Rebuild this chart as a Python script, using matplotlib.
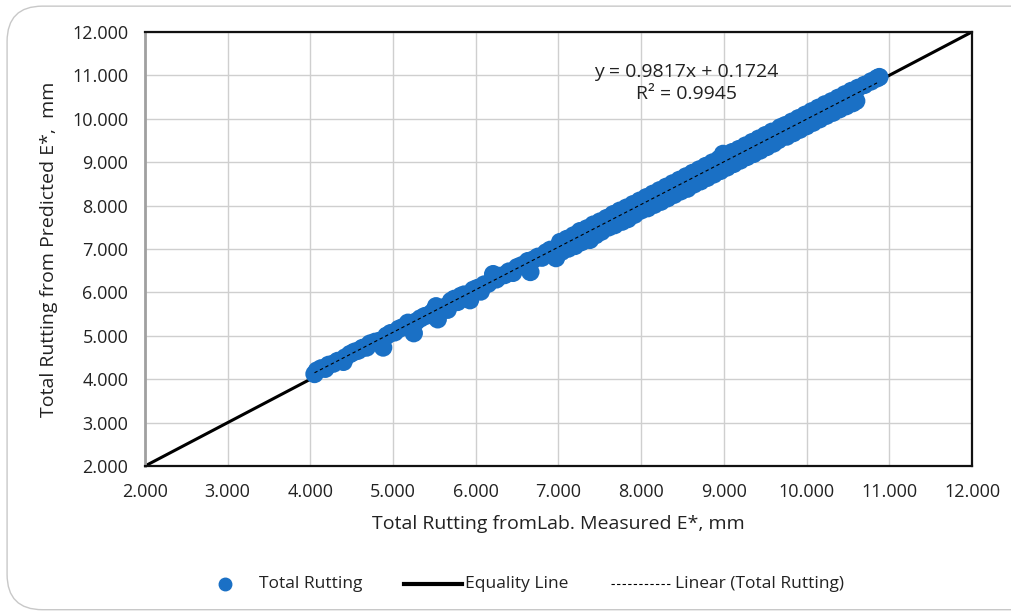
import numpy as np
import matplotlib.pyplot as plt
from matplotlib.patches import FancyBboxPatch
from matplotlib.lines import Line2D

plt.rcParams['font.family'] = ['Open Sans', 'DejaVu Sans']

# Rutting from lab-measured E* vs rutting from predicted E* (mm)
measured = [
    4.05, 4.08, 4.13, 4.18, 4.22, 4.28, 4.33, 4.40, 4.42, 4.48, 4.53, 4.58,
    4.63, 4.68, 4.72, 4.78, 4.83, 4.88, 4.92, 4.97, 5.02, 5.07, 5.12, 5.18,
    5.22, 5.25, 5.28, 5.33, 5.38, 5.43, 5.48, 5.52, 5.54, 5.58, 5.62, 5.66,
    5.70, 5.74, 5.78, 5.82, 5.86, 5.90, 5.93, 5.97, 6.02, 6.06, 6.10, 6.15,
    6.21, 6.25, 6.30, 6.35, 6.40, 6.45, 6.50, 6.55, 6.60, 6.63, 6.66, 6.70,
    6.75, 6.80, 6.85, 6.90, 6.94, 6.97,
    7.02, 7.04, 7.10, 7.12, 7.18, 7.20, 7.26, 7.28, 7.34, 7.38, 7.42, 7.45,
    7.50, 7.52, 7.58, 7.61, 7.66, 7.68, 7.74, 7.77, 7.82, 7.84, 7.90, 7.92,
    7.98, 8.00, 8.06, 8.08, 8.14, 8.16, 8.22, 8.24, 8.30, 8.32, 8.38, 8.40,
    8.46, 8.48, 8.54, 8.56, 8.62, 8.64, 8.70, 8.72, 8.78, 8.80, 8.86, 8.88,
    8.94, 8.96, 8.99, 9.02, 9.04, 9.10, 9.12, 9.18, 9.20, 9.26, 9.28, 9.34,
    9.36, 9.42, 9.44, 9.50, 9.52, 9.58, 9.60, 9.68, 9.66, 9.74, 9.76, 9.82,
    9.84, 9.90, 9.92, 9.98, 10.00, 10.06, 10.08, 10.14, 10.16, 10.22, 10.24,
    10.30, 10.32, 10.38, 10.40, 10.46, 10.48, 10.54, 10.56, 10.62, 10.60,
    10.70, 10.78, 10.85, 10.88,
]
predicted = [
    4.12, 4.20, 4.25, 4.24, 4.33, 4.36, 4.42, 4.40, 4.50, 4.58, 4.63, 4.66,
    4.72, 4.73, 4.82, 4.86, 4.88, 4.73, 5.00, 5.06, 5.08, 5.16, 5.20, 5.30,
    5.25, 5.06, 5.33, 5.40, 5.45, 5.48, 5.55, 5.68, 5.38, 5.60, 5.66, 5.60,
    5.80, 5.85, 5.78, 5.92, 5.95, 5.93, 5.82, 6.06, 6.10, 6.02, 6.18, 6.20,
    6.42, 6.30, 6.38, 6.40, 6.48, 6.45, 6.58, 6.62, 6.60, 6.72, 6.47, 6.76,
    6.82, 6.80, 6.92, 6.98, 6.90, 6.79,
    7.16, 6.94, 7.23, 7.01, 7.31, 7.07, 7.41, 7.16, 7.47, 7.21, 7.56, 7.32,
    7.63, 7.40, 7.71, 7.50, 7.80, 7.55, 7.88, 7.63, 7.95, 7.69, 8.03, 7.79,
    8.11, 7.89, 8.19, 7.94, 8.27, 8.02, 8.35, 8.09, 8.43, 8.17, 8.51, 8.25,
    8.59, 8.33, 8.67, 8.39, 8.75, 8.49, 8.83, 8.56, 8.91, 8.64, 8.99, 8.72,
    9.07, 8.80, 9.19, 9.15, 8.88, 9.23, 8.96, 9.30, 9.04, 9.38, 9.12, 9.46,
    9.19, 9.54, 9.27, 9.62, 9.35, 9.70, 9.43, 9.80, 9.51, 9.85, 9.59, 9.93,
    9.67, 10.01, 9.75, 10.09, 9.83, 10.17, 9.91, 10.25, 9.99, 10.33, 10.07,
    10.40, 10.14, 10.48, 10.22, 10.56, 10.29, 10.64, 10.36, 10.71, 10.41,
    10.78, 10.86, 10.93, 10.96,
]

# Linear trendline coefficients
slope = 0.9817
intercept = 0.1724
r2 = 0.9945

ticks = [2, 3, 4, 5, 6, 7, 8, 9, 10, 11, 12]
tick_labels = [f'{t:.3f}' for t in ticks]

blue = '#1a70c5'
txt = '#222222'

fig = plt.figure(figsize=(10.11, 6.14), dpi=100)

# Chart area border with rounded corners
frame = FancyBboxPatch((0.007, 0.007), 1.05, 0.983, boxstyle='round,pad=0,rounding_size=0.035',
                       transform=fig.transFigure, facecolor='none', edgecolor='#c8c8c8',
                       linewidth=1.0, mutation_aspect=1011 / 614, zorder=-1)
fig.patches.append(frame)

ax = fig.add_axes([0.1434, 0.241, 0.818, 0.707])
ax.set_facecolor('none')

ax.plot([2, 12], [2, 12], color='black', linewidth=2.2, zorder=2)
ax.scatter(measured, predicted, s=175, color=blue, edgecolors='none', zorder=3)

xfit = np.array([min(measured), max(measured)])
ax.plot(xfit, slope * xfit + intercept, color='black', linestyle=(0, (3, 2.5)),
        linewidth=0.8, zorder=4)

ax.set_xlim(2, 12)
ax.set_ylim(2, 12)
ax.set_xticks(ticks)
ax.set_xticklabels(tick_labels)
ax.set_yticks(ticks)
ax.set_yticklabels(tick_labels)
ax.tick_params(length=0, labelsize=13, colors=txt)
ax.tick_params(axis='x', pad=12)
ax.tick_params(axis='y', pad=12)
ax.grid(True, color='#cfcfcf', linewidth=1.0, zorder=0)
ax.set_axisbelow(True)

for side in ['top', 'right', 'bottom']:
    ax.spines[side].set_color('#111111')
    ax.spines[side].set_linewidth(1.6)
ax.spines['left'].set_color('#a0a0a0')
ax.spines['left'].set_linewidth(2.0)

ax.set_xlabel('Total Rutting fromLab. Measured E*, mm', fontsize=14, labelpad=10, color=txt)
ax.set_ylabel('Total Rutting from Predicted E*,  mm', fontsize=14, labelpad=10, color=txt)

ax.text(8.55, 10.83, f'y = {slope}x + {intercept}\nR² = {r2}', ha='center', va='center',
        fontsize=14, linespacing=1.3, color=txt)

# Legend row along the bottom of the chart area
px = lambda x: x / 1011
ly = 1 - 584 / 614
fig.add_artist(Line2D([px(225)], [ly], marker='o', color=blue, markersize=9,
                      linestyle='none', transform=fig.transFigure))
fig.text(px(259), ly, 'Total Rutting', fontsize=12.5, va='center', ha='left', color=txt)
fig.add_artist(Line2D([px(404), px(462)], [ly, ly], color='black', linewidth=3,
                      transform=fig.transFigure))
fig.text(px(465), ly, 'Equality Line', fontsize=12.5, va='center', ha='left', color=txt)
fig.add_artist(Line2D([px(611), px(671)], [ly, ly], color='black', linewidth=0.8,
                      linestyle=(0, (3, 2)), transform=fig.transFigure))
fig.text(px(675), ly, 'Linear (Total Rutting)', fontsize=12.5, va='center', ha='left', color=txt)

fig.savefig('out.png', dpi=100)
